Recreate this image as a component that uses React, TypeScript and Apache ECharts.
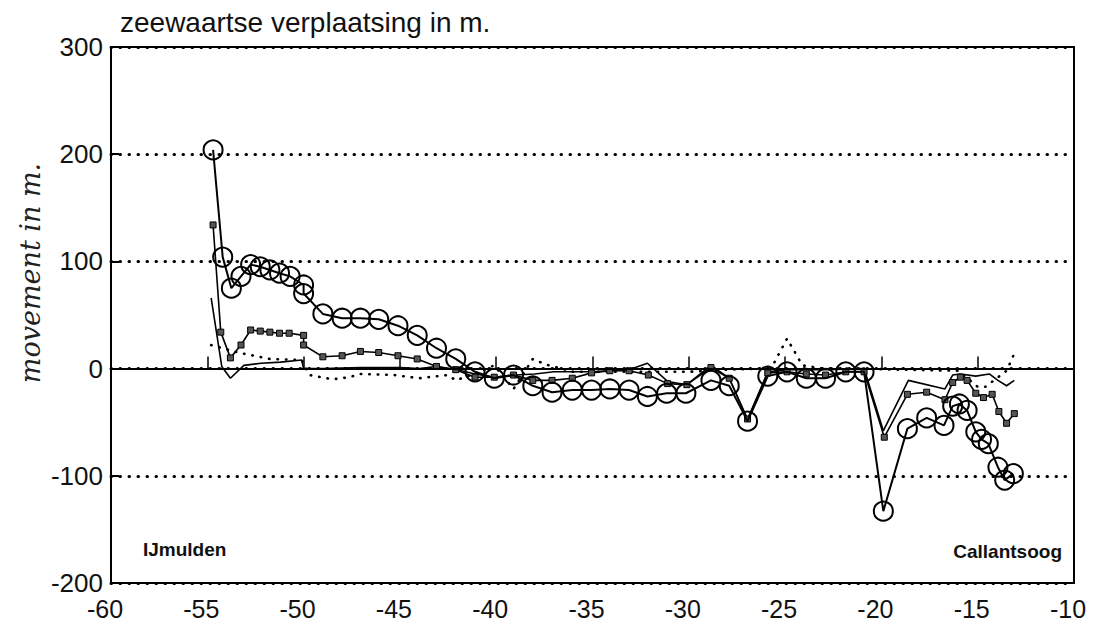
import React, { useEffect, useRef } from "react";
import * as echarts from "echarts";

const titleText = "zeewaartse verplaatsing in m.";
const yAxisName = "movement in m.";
const leftLabel = "IJmulden";
const rightLabel = "Callantsoog";

const circleSeries: [number, number][] = [
  [-54.7, 204], [-54.2, 104], [-53.75, 75], [-53.25, 86], [-52.75, 97], [-52.25, 95],
  [-51.75, 92], [-51.25, 89], [-50.7, 86], [-50, 78], [-50, 70], [-49, 51], [-48, 47],
  [-47.05, 47], [-46.1, 46], [-45.1, 40], [-44.1, 31], [-43.1, 19], [-42.1, 9], [-41.1, -3],
  [-40.1, -9], [-39.1, -6], [-38.1, -16], [-37.1, -22], [-36.05, -20], [-35.05, -20],
  [-34.1, -19], [-33.1, -20], [-32.15, -26], [-31.15, -23], [-30.15, -23], [-28.85, -11],
  [-27.9, -16], [-26.95, -49], [-25.9, -7], [-24.9, -3], [-23.9, -9], [-22.9, -9],
  [-21.85, -3], [-20.9, -3], [-19.9, -133], [-18.65, -56], [-17.65, -46], [-16.75, -53],
  [-16.3, -35], [-15.95, -33], [-15.55, -39], [-15.1, -59], [-14.8, -66], [-14.45, -70],
  [-13.95, -92], [-13.6, -104], [-13.15, -98],
];

const squareSeries: [number, number][] = [
  [-54.7, 134], [-54.3, 34], [-53.8, 10], [-53.25, 22], [-52.75, 36], [-52.25, 35],
  [-51.75, 34], [-51.25, 33], [-50.75, 33], [-50, 31], [-50, 22], [-49, 11], [-48, 12],
  [-47.05, 16], [-46.1, 15], [-45.1, 12], [-44.1, 9], [-43.1, 2], [-42.1, -1], [-41.1, -8],
  [-40.1, -8], [-39.1, -6], [-38.1, -11], [-37.1, -11], [-36.05, -9], [-35.05, -4],
  [-34.1, -2], [-33.1, -2], [-32.1, -6], [-31.1, -14], [-30.1, -15], [-28.85, 1],
  [-27.9, -9], [-26.95, -47], [-25.9, -4], [-24.9, -3], [-23.9, -5], [-22.9, -6],
  [-21.85, -3], [-20.9, -3], [-19.85, -64], [-18.65, -24], [-17.65, -22], [-16.7, -29],
  [-16.3, -13], [-15.9, -8], [-15.55, -11], [-15.1, -23], [-14.7, -27], [-14.25, -24],
  [-13.9, -40], [-13.5, -51], [-13.1, -42],
];

const plainSeries: [number, number][] = [
  [-54.8, 66], [-54.25, 2], [-53.8, -9], [-53.1, 3], [-52.2, 5], [-51.2, 6], [-50.1, 8],
  [-50, 0], [-49, 0], [-47, 1], [-45, 1], [-44, 0], [-43.1, 2], [-42, -1], [-41.1, -5],
  [-40.1, -8], [-39, -6], [-38, -5], [-37, -3], [-35, -3], [-33.1, -1], [-32.15, 5],
  [-31.1, -12], [-30.1, -15], [-28.85, 3], [-27.9, -9], [-26.95, -48], [-25.9, -3],
  [-24.9, -1], [-23, -1], [-20.9, 0], [-19.9, -58], [-18.6, -11], [-16.7, -19],
  [-16.3, -6], [-15.9, -5], [-15.1, -7], [-14.4, -5], [-13.95, -11], [-13.5, -16],
  [-13.1, -11],
];

const dottedSeries: [number, number][] = [
  [-54.8, 22], [-53.4, 15], [-51.75, 9], [-50.1, 8], [-49.7, -6], [-48.5, -10],
  [-47.6, -8], [-47.1, -5], [-45.3, -6], [-44.0, -9], [-42.5, -6], [-42.1, -11],
  [-41, -4], [-40.1, 3], [-39.1, -19], [-38.1, 9], [-37.45, 4], [-36, -3], [-33, -3],
  [-30, -3], [-28, -1], [-26, 0], [-25.55, 6], [-24.9, 28], [-24.1, 3], [-23, 0],
  [-21, 0], [-19, -1], [-16, -2], [-15, -17], [-14.6, -17], [-13.5, -2], [-13.05, 16],
];

export default function App() {
  const ref = useRef<HTMLDivElement>(null);
  useEffect(() => {
    if (!ref.current) return;
    const chart = echarts.init(ref.current, null, { renderer: "svg" });
    const font = "'Liberation Sans', Arial, sans-serif";
    chart.setOption({
      animation: false,
      backgroundColor: "#fff",
      grid: {
        left: 111,
        right: 24,
        top: 47,
        bottom: 56,
        show: true,
        borderColor: "#000",
        borderWidth: 2,
        backgroundColor: "transparent",
      },
      title: {
        text: titleText,
        left: 115,
        top: 3,
        textStyle: { fontFamily: font, fontSize: 28, fontWeight: "normal", color: "#111" },
      },
      graphic: [
        {
          type: "text",
          left: 143,
          top: 540,
          style: { text: leftLabel, font: `bold 19px ${font}`, fill: "#111" },
        },
        {
          type: "text",
          right: 36,
          top: 542,
          style: { text: rightLabel, font: `bold 19px ${font}`, fill: "#111" },
        },
        {
          type: "text",
          x: 30,
          y: 273,
          rotation: Math.PI / 2,
          style: {
            text: yAxisName,
            font: `italic 27px 'DejaVu Serif', serif`,
            fill: "#222",
            align: "center",
            verticalAlign: "middle",
          },
        },
      ],
      xAxis: {
        type: "value",
        min: -60,
        max: -10,
        interval: 5,
        axisLine: { show: true, lineStyle: { color: "#000", width: 2 } },
        axisTick: { show: true, inside: true, length: 12, lineStyle: { color: "#000", width: 1.5 } },
        splitLine: { show: false },
        axisLabel: {
          color: "#111",
          fontFamily: font,
          fontSize: 25,
          margin: 13,
          padding: [0, 12, 0, 0],
        },
      },
      yAxis: {
        type: "value",
        min: -200,
        max: 300,
        interval: 100,
        axisLine: { show: true, lineStyle: { color: "#000", width: 2 } },
        axisTick: { show: true, inside: true, length: 8, lineStyle: { color: "#000", width: 2 } },
        splitLine: { show: true, lineStyle: { color: "#000", type: [0.5, 8.5], width: 3, cap: "round" } },
        axisLabel: { color: "#111", fontFamily: font, fontSize: 26, margin: 8 },
      },
      series: [
        {
          type: "line",
          data: dottedSeries,
          symbol: "none",
          lineStyle: { color: "#000", width: 2.6, type: [0.5, 8], cap: "round" },
          z: 2,
        },
        {
          type: "line",
          data: plainSeries,
          symbol: "none",
          lineStyle: { color: "#000", width: 1.6 },
          markLine: {
            silent: true,
            symbol: ["none", "none"],
            label: { show: false },
            lineStyle: { color: "#000", type: "solid", width: 2 },
            data: [{ yAxis: 0 }],
          },
          z: 3,
        },
        {
          type: "line",
          data: squareSeries,
          symbol: "rect",
          symbolSize: 6,
          showAllSymbol: true,
          itemStyle: { color: "#555", borderColor: "#000", borderWidth: 1 },
          lineStyle: { color: "#000", width: 1.6 },
          z: 4,
        },
        {
          type: "line",
          data: circleSeries,
          symbol: "circle",
          symbolSize: 19,
          showAllSymbol: true,
          itemStyle: { color: "rgba(0,0,0,0)", borderColor: "#000", borderWidth: 2 },
          lineStyle: { color: "#000", width: 2 },
          z: 5,
        },
      ],
    });
    return () => chart.dispose();
  }, []);
  return (
    <div
      ref={ref}
      style={{ position: "fixed", left: 0, top: 0, width: 1098, height: 639, background: "#fff" }}
    />
  );
}
